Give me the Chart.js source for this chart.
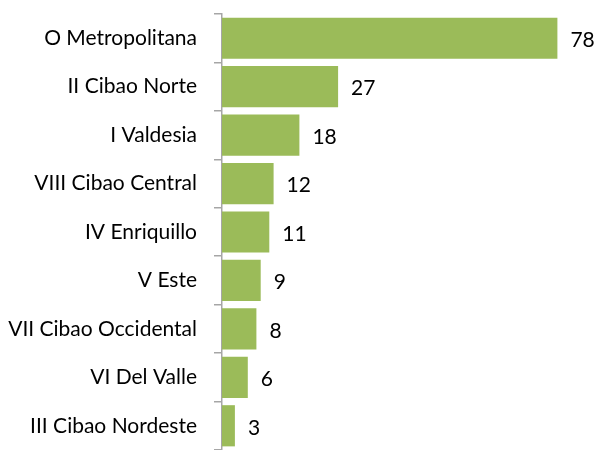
<!DOCTYPE html>
<html>
<head>
<meta charset="utf-8">
<script src="https://cdn.jsdelivr.net/npm/chart.js@4"></script>
<style>
  html, body { margin: 0; padding: 0; background: #fff; }
  #wrap { width: 595px; height: 450px; }
</style>
</head>
<body>
<div id="wrap"><canvas id="regionChart" width="595" height="450"></canvas></div>
<script>
// Regiones - cantidad
const regions = ['O Metropolitana', 'II Cibao Norte', 'I Valdesia', 'VIII Cibao Central', 'IV Enriquillo', 'V Este', 'VII Cibao Occidental', 'VI Del Valle', 'III Cibao Nordeste'];
const counts = [78, 27, 18, 12, 11, 9, 8, 6, 3];

const FONT = 'Lato, "Open Sans", sans-serif';

// draws the number to the right of each bar
const valueLabels = {
    id: 'valueLabels',
    afterDatasetsDraw(chart) {
        const ctx = chart.ctx;
        const meta = chart.getDatasetMeta(0);
        ctx.save();
        ctx.font = '21px ' + FONT;
        ctx.fillStyle = '#000';
        ctx.textAlign = 'left';
        ctx.textBaseline = 'middle';
        meta.data.forEach((bar, i) => {
            ctx.fillText(String(counts[i]), bar.x + 13, bar.y + 2);
        });
        ctx.restore();
    }
};

new Chart(document.getElementById('regionChart'), {
    type: 'bar',
    data: {
        labels: regions,
        datasets: [{
            data: counts,
            backgroundColor: '#9BBB59',
            borderWidth: 0,
            barPercentage: 0.85,
            categoryPercentage: 1
        }]
    },
    options: {
        indexAxis: 'y',
        responsive: false,
        animation: false,
        layout: { padding: { top: 14, right: 29, bottom: 0, left: 0 } },
        plugins: { legend: { display: false }, tooltip: { enabled: false } },
        scales: {
            x: { display: false, min: 0, max: 80 },
            y: {
                afterFit: s => { s.width = 222; s.paddingTop = 0; s.paddingBottom = 0; },
                border: { color: '#A6A6A6', width: 1.5 },
                grid: { offset: true, drawOnChartArea: false, tickLength: 8, color: '#A6A6A6', lineWidth: 1.5 },
                ticks: { color: '#000', padding: 17, font: { family: FONT, size: 21 } }
            }
        }
    },
    plugins: [valueLabels]
});
</script>
</body>
</html>
